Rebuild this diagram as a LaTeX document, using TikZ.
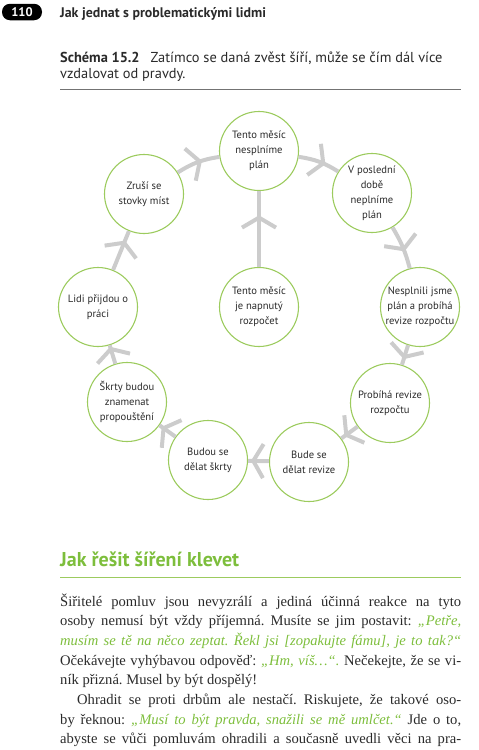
\documentclass[tikz,border=0pt]{standalone}
\usepackage{fontspec}
\setmainfont{Liberation Serif}
\newfontfamily\sansf{PT Sans}
\usetikzlibrary{decorations.markings}
\definecolor{grn}{HTML}{7DBE3C}
\definecolor{cgrn}{HTML}{9CCB5E}
\definecolor{arr}{HTML}{CCCCCC}
\definecolor{txt}{HTML}{2A2A2A}
\newcommand\jl[1]{\hbox to 401pt{#1}}
\newcommand\lastl[1]{\hbox to 401pt{#1\hfil}}
\newcommand\gi[1]{\textcolor{grn}{\itshape #1}}
\frenchspacing
\begin{document}
\begin{tikzpicture}[x=1pt,y=-1pt,
  bub/.style={circle,draw=cgrn,line width=1.1pt,minimum size=79pt,inner sep=0pt},
  lbl/.style={align=center,font=\sansf\fontsize{10.6}{15}\selectfont,text=txt,inner sep=0pt},
  conn/.style={line width=4pt,draw=arr,line join=round,
    postaction={decorate,decoration={markings,mark=at position #1 with
      {\draw[line width=4pt,arr,line join=round] (-10pt,17pt) -- (0pt,0pt) -- (-10pt,-17pt);}}}},
  conn/.default=0.6
]
\useasboundingbox (0,0) rectangle (479,750);

% header
\node[fill=black,rounded corners=8pt,minimum width=40pt,minimum height=16.5pt,inner sep=0pt,
  text=white,font=\sansf\bfseries\fontsize{12.5}{13}\selectfont] (badge) at (22,12) {110};
\node[anchor=base west,inner sep=0pt,text=txt,font=\sansf\bfseries\fontsize{13.9}{15}\selectfont]
  (title) at (60,17) {Jak jednat s problematickými lidmi};
\node[anchor=base west,inner sep=0pt,text=txt,font=\sansf\fontsize{14.4}{16}\selectfont]
  (cap1) at (60,62) {\textbf{Schéma 15.2}\hspace{11pt}Zatímco se daná zvěst šíří, může se čím dál více};
\node[anchor=base west,inner sep=0pt,text=txt,font=\sansf\fontsize{14.4}{16}\selectfont]
  (cap2) at (60,78) {vzdalovat od pravdy.};
\draw[line width=0.9pt,black!55] (60,89) -- (461,89);

% circles
\node[bub] (c1) at (259,151) {};
\node[bub] (c2) at (372,193) {};
\node[bub] (c3) at (420,307) {};
\node[bub] (c4) at (390,403) {};
\node[bub] (c5) at (309,462) {};
\node[bub] (c6) at (208,460) {};
\node[bub] (c7) at (127,402) {};
\node[bub] (c8) at (98,307) {};
\node[bub] (c9) at (144,194) {};
\node[bub] (c0) at (259,307) {};

\node[lbl] at (c1) {Tento měsíc\\nesplníme\\plán};
\node[lbl] at (c2) {V poslední\\době\\neplníme\\plán};
\node[lbl] at (c3) {Nesplnili jsme\\plán a probíhá\\revize rozpočtu};
\node[lbl] at (c4) {Probíhá revize\\rozpočtu};
\node[lbl] at (c5) {Bude se\\dělat revize};
\node[lbl] at (c6) {Budou se\\dělat škrty};
\node[lbl] at (c7) {Škrty budou\\znamenat\\propouštění};
\node[lbl] at (c8) {Lidi přijdou o\\práci};
\node[lbl] at (c9) {Zruší se\\stovky míst};
\node[lbl] at (c0) {Tento měsíc\\je napnutý\\rozpočet};

% connectors
\draw[conn=0.65] (c0) -- (c1);
\draw[conn=0.6] (c1) to[bend left=12] (c2);
\draw[conn=0.55] (c2) to[bend left=8] (c3);
\draw[conn=0.6] (c3) -- (c4);
\draw[conn=0.7] (c4) -- (c5);
\draw[conn=0.75] (c5) -- (c6);
\draw[conn=0.75] (c6) -- (c7);
\draw[conn=0.8] (c7) -- (c8);
\draw[conn=0.7] (c8) -- (c9);
\draw[conn=0.55] (c9) to[bend left=12] (c1);

% section heading
\node[anchor=base west,inner sep=0pt,text=grn,font=\sansf\bfseries\fontsize{20}{22}\selectfont]
  (head) at (60,566) {Jak řešit šíření klevet};
\draw[line width=0.9pt,cgrn] (60,577) -- (461,577);

% body text
\node[anchor=base west,inner sep=0pt,text=txt,font=\fontsize{14.6}{19.7}\selectfont] (body) at (60,606)
{\vtop{\baselineskip=19.7pt
\jl{Šiřitelé pomluv jsou nevyzrálí a jediná účinná reakce na tyto}
\jl{osoby nemusí být vždy příjemná. Musíte se jim postavit: \gi{„Petře,}}
\jl{\gi{musím se tě na něco zeptat. Řekl jsi [zopakujte fámu], je to tak?“}}
\jl{Očekávejte vyhýbavou odpověď: \gi{„Hm, víš…“.} Nečekejte, že se vi-}
\lastl{ník přizná. Musel by být dospělý!}
\jl{\hspace{17pt}Ohradit se proti drbům ale nestačí. Riskujete, že takové oso-}
\jl{by řeknou: \gi{„Musí to být pravda, snažili se mě umlčet.“} Jde o to,}
\jl{abyste se vůči pomluvám ohradili a současně uvedli věci na pra-}}};
\end{tikzpicture}
\end{document}
